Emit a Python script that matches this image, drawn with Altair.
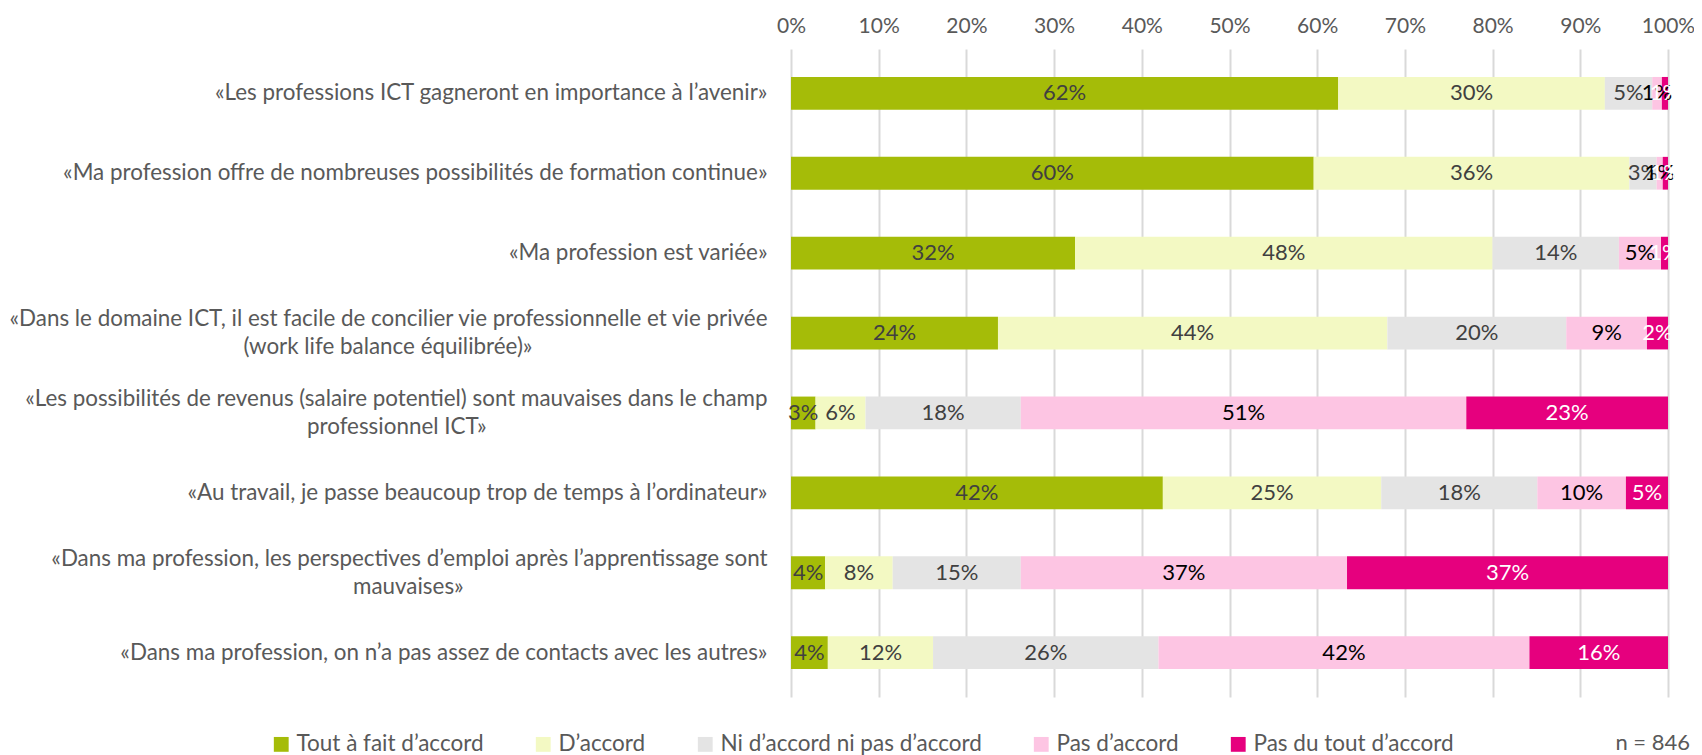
import altair as alt
import pandas as pd

questions = [
    "«Les professions ICT gagneront en importance à l’avenir»",
    "«Ma profession offre de nombreuses possibilités de formation continue»",
    "«Ma profession est variée»",
    "«Dans le domaine ICT, il est facile de concilier vie professionnelle et vie privée\n(work life balance équilibrée)»",
    "«Les possibilités de revenus (salaire potentiel) sont mauvaises dans le champ\nprofessionnel ICT»",
    "«Au travail, je passe beaucoup trop de temps à l’ordinateur»",
    "«Dans ma profession, les perspectives d’emploi après l’apprentissage sont\nmauvaises»",
    "«Dans ma profession, on n’a pas assez de contacts avec les autres»",
]
categories = ["Tout à fait d’accord", "D’accord", "Ni d’accord ni pas d’accord",
              "Pas d’accord", "Pas du tout d’accord"]
tout_a_fait = [62.4, 59.6, 32.4, 23.6, 2.8, 42.4, 3.9, 4.2]
d_accord = [30.4, 36.0, 47.6, 44.4, 5.7, 24.9, 7.7, 12.0]
neutre = [5.4, 3.1, 14.4, 20.4, 17.7, 17.8, 14.6, 25.7]
pas_d_accord = [1.1, 0.7, 4.8, 9.2, 50.8, 10.1, 37.2, 42.3]
pas_du_tout = [0.7, 0.6, 0.8, 2.4, 23.0, 4.8, 36.6, 15.8]
x_ticks = [0, 10, 20, 30, 40, 50, 60, 70, 80, 90, 100]
sample_note = "n = 846"

# Visual centring of the second line of wrapped labels (style only):
# no-break spaces (closed by a zero-width space so they are not trimmed)
# push the short line to sit centred under the long, right-aligned one.
LINE2_PAD = {3: 41, 4: 49, 6: 53}

def display_label(i, q):
    if "\n" in q:
        a, b = q.split("\n")
        return a + "\n" + b + "\u00a0" * LINE2_PAD.get(i, 0) + "\u200b"
    return q

labels = [display_label(i, q) for i, q in enumerate(questions)]

series = [tout_a_fait, d_accord, neutre, pas_d_accord, pas_du_tout]
rows = []
for ci, (cat, vals) in enumerate(zip(categories, series)):
    for qi, q in enumerate(labels):
        rows.append({"question": q, "qorder": qi, "category": cat,
                     "corder": ci, "value": vals[qi]})
df = pd.DataFrame(rows)

colors = ["#A5BC08", "#F3F9C3", "#E4E4E4", "#FDC5E3", "#E6007E"]
FONT = "Lato"

y_enc = alt.Y("question:N", sort=labels, title=None,
              scale=alt.Scale(paddingInner=0.59, paddingOuter=0.35),
              axis=alt.Axis(labelExpr="split(datum.label, '\\n')",
                            labelFontSize=22.4, labelColor="#595959",
                            labelFont=FONT, labelLineHeight=28,
                            labelOffset={"condition": {
                                "test": "indexof(datum.value, '\\n') >= 0",
                                "value": -14}, "value": 0},
                            labelPadding=24, ticks=False, domain=False,
                            labelLimit=0, grid=False))

base = alt.Chart(df).transform_stack(
    stack="value", groupby=["question"], as_=["x0", "x1"],
    sort=[alt.SortField("corder", order="ascending")]
).transform_calculate(
    mid="(datum.x0 + datum.x1) / 2",
    lab="format(round(datum.value), 'd') + '%'",
    tc="datum.corder == 4 ? '#FFFFFF' : (datum.corder == 3 ? '#000000' : '#404040')",
)

bars = base.mark_bar().encode(
    x=alt.X("x0:Q", title=None,
            scale=alt.Scale(domain=[0, 100], nice=False),
            axis=alt.Axis(orient="top", values=x_ticks,
                          labelExpr="datum.value + '%'",
                          labelFontSize=21, labelColor="#595959",
                          labelFont=FONT, labelPadding=13, ticks=False,
                          labelFlush=False, labelOverlap=False,
                          domain=False, grid=True, gridColor="#D9D9D9",
                          gridWidth=2)),
    x2="x1:Q",
    y=y_enc,
    color=alt.Color("category:N", sort=categories,
                    scale=alt.Scale(domain=categories, range=colors),
                    legend=alt.Legend(title=None, orient="none",
                                      legendX=-521, legendY=684,
                                      direction="horizontal", columns=5,
                                      columnPadding=48, symbolType="square",
                                      symbolSize=220, symbolStrokeWidth=0,
                                      labelFontSize=22.5, labelColor="#595959",
                                      labelFont=FONT, labelLimit=0,
                                      labelOffset=4)),
)

texts = base.mark_text(fontSize=22, font=FONT).encode(
    x="mid:Q",
    y=alt.Y("question:N", sort=labels),
    text="lab:N",
    color=alt.Color("tc:N", scale=None),
)

note = alt.Chart(pd.DataFrame({"t": [sample_note]})).mark_text(
    fontSize=22, font=FONT, color="#595959", align="right", baseline="middle"
).encode(text="t:N", x=alt.value(899), y=alt.value(694))

chart = alt.layer(bars, texts, note).properties(
    width=877, height=648,
    autosize=alt.AutoSizeParams(type="none"),
    padding={"left": 783, "top": 41, "right": 26, "bottom": 66},
).configure_view(stroke=None)

chart.save("out.html", embed_options={"renderer": "svg", "actions": False})
